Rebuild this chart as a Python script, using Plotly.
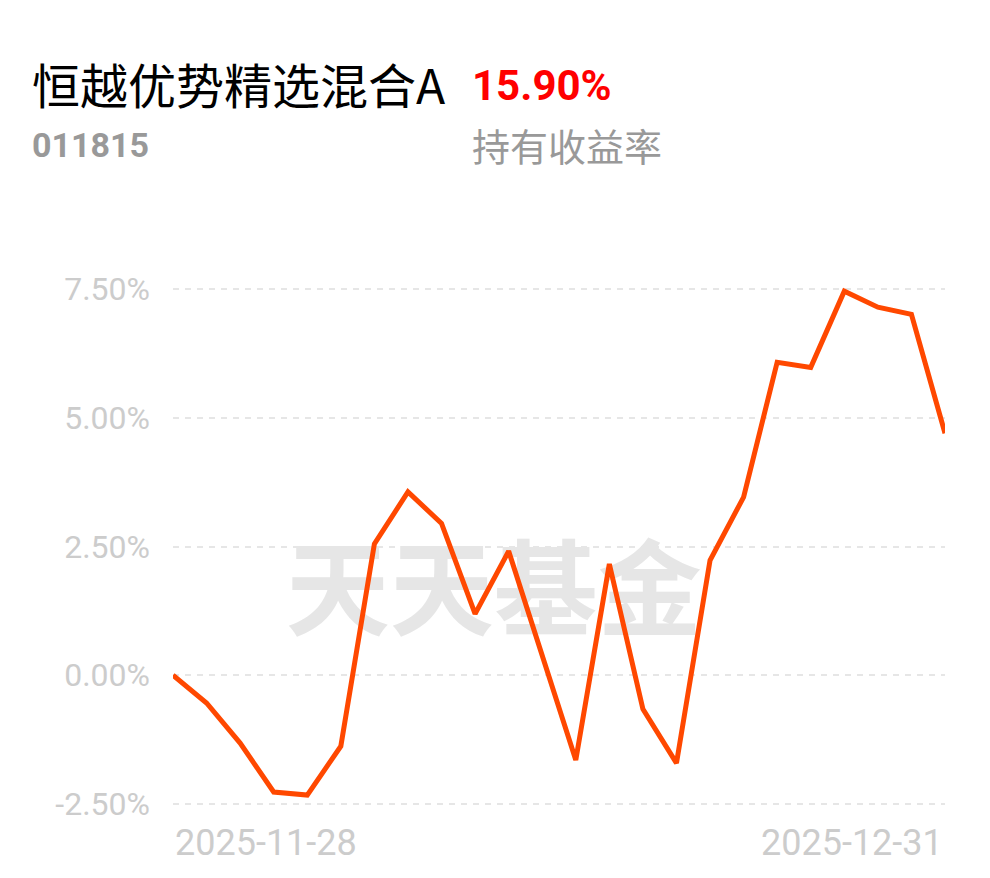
import plotly.graph_objects as go

dates = ["2025-11-28", "2025-12-01", "2025-12-02", "2025-12-03", "2025-12-04", "2025-12-05",
         "2025-12-08", "2025-12-09", "2025-12-10", "2025-12-11", "2025-12-12",
         "2025-12-15", "2025-12-16", "2025-12-17", "2025-12-18", "2025-12-19",
         "2025-12-22", "2025-12-23", "2025-12-24", "2025-12-25", "2025-12-26",
         "2025-12-29", "2025-12-30", "2025-12-31"]
returns = [0.00, -0.54, -1.32, -2.27, -2.33, -1.38,
           2.55, 3.56, 2.95, 1.19, 2.41,
           0.37, -1.65, 2.16, -0.66, -1.71,
           2.23, 3.46, 6.08, 5.98, 7.46,
           7.15, 7.01, 4.70]
y_ticks = [-2.5, 0.0, 2.5, 5.0, 7.5]
y_tick_labels = ["-2.50%", "0.00%", "2.50%", "5.00%", "7.50%"]

fund_name = "恒越优势精选混合A"
fund_code = "011815"
hold_return = "15.90%"
hold_label = "持有收益率"
watermark = "天天基金"

idx = list(range(len(dates)))

# screen-space plot box (page has 8px body offset)
PL, PR, PT, PB = 173, 945, 284, 809


def px(x):
    return (x - PL) / (PR - PL)


def py(y):
    return (PB - y) / (PB - PT)


fig = go.Figure()
fig.add_trace(go.Scatter(
    x=[9.56], y=[1.42], mode="text", text=[watermark],
    textfont=dict(family="Noto Sans CJK SC", size=104, color="#e6e6e6", weight="bold"),
    hoverinfo="skip", cliponaxis=False, showlegend=False,
))
fig.add_trace(go.Scatter(
    x=idx, y=returns, mode="lines",
    line=dict(color="#ff4800", width=5, shape="linear"),
    showlegend=False,
))

fig.update_layout(
    width=990, height=878,
    paper_bgcolor="white", plot_bgcolor="white",
    margin=dict(l=PL - 8, r=990 + 8 - PR, t=PT - 8, b=878 + 8 - PB),
    xaxis=dict(range=[0, len(dates) - 1], showgrid=False, zeroline=False,
               showticklabels=False, showline=False, fixedrange=True),
    yaxis=dict(range=[-2.6, 7.6], tickvals=y_ticks, ticktext=y_tick_labels,
               showgrid=True, gridcolor="#e6e6e6", gridwidth=2, griddash="6px,6px",
               zeroline=False, showline=False, ticks="", ticklabelstandoff=22,
               tickfont=dict(family="Roboto", size=32, color="#cccccc")),
    font=dict(family="Roboto"),
)

annotations = [
    dict(text=fund_name, x=30, y=83, xanchor="left", yanchor="middle",
         font=dict(family="Noto Sans CJK SC", size=48, color="#000000")),
    dict(text=hold_return, x=470, y=86, xanchor="left", yanchor="middle",
         font=dict(family="Roboto", size=42, color="#ff0000", weight="bold")),
    dict(text=fund_code, x=30, y=145, xanchor="left", yanchor="middle",
         font=dict(family="Roboto", size=34, color="#999999", weight="bold")),
    dict(text=hold_label, x=470, y=144, xanchor="left", yanchor="middle",
         font=dict(family="Noto Sans CJK SC", size=38, color="#999999")),
]
for a in annotations:
    a.update(xref="paper", yref="paper", showarrow=False)
    a["x"] = px(a["x"])
    a["y"] = py(a["y"])

annotations.append(dict(text=dates[0], x=0, xref="x", xanchor="left",
                        y=py(843), yref="paper", yanchor="middle",
                        showarrow=False, font=dict(family="Roboto", size=36, color="#cccccc")))
annotations.append(dict(text=dates[-1], x=len(dates) - 1, xref="x", xanchor="right",
                        y=py(843), yref="paper", yanchor="middle",
                        showarrow=False, font=dict(family="Roboto", size=36, color="#cccccc")))
fig.update_layout(annotations=annotations)

fig.write_html("out.html")
